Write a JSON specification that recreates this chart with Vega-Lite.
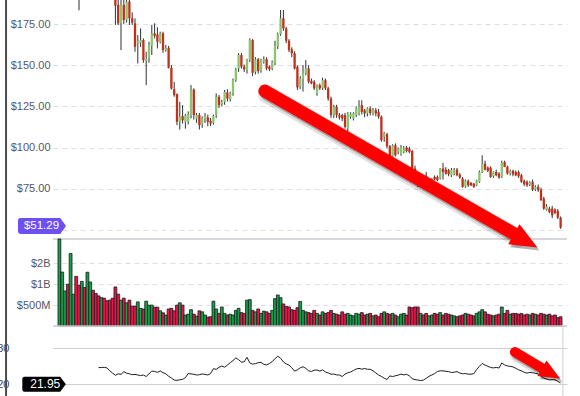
{
"$schema": "https://vega.github.io/schema/vega-lite/v6.json",
"width": 514, "height": 396, "autosize": "none",
"padding": {"left": 53, "top": 0, "right": 13, "bottom": 0},
"background": "#ffffff",
"config": {"view": {"stroke": null}, "axis": {"labelFont": "Liberation Sans", "labelFontSize": 11, "labelColor": "#55566a", "ticks": false, "domain": false}},
"datasets": {"k": [
{"i":0,"o":210,"h":217,"l":205,"c":214,"v":4500},
{"i":1,"o":214,"h":220,"l":211,"c":218,"v":1500},
{"i":2,"o":216,"h":222,"l":213,"c":219,"v":800},
{"i":3,"o":219,"h":221,"l":210,"c":213,"v":1000},
{"i":4,"o":205,"h":216,"l":199,"c":214,"v":2780},
{"i":5,"o":214,"h":219,"l":210,"c":216,"v":720},
{"i":6,"o":216,"h":217,"l":205,"c":208,"v":1300},
{"i":7,"o":205,"h":208,"l":183.5,"c":199,"v":970},
{"i":8,"o":198,"h":204,"l":193,"c":202,"v":1100},
{"i":9,"o":202,"h":204,"l":196,"c":198,"v":900},
{"i":10,"o":198,"h":208,"l":196,"c":206,"v":1490},
{"i":11,"o":206,"h":210,"l":203,"c":208,"v":1080},
{"i":12,"o":208,"h":209,"l":202,"c":204,"v":820},
{"i":13,"o":204,"h":206,"l":200,"c":201,"v":740},
{"i":14,"o":201,"h":203,"l":197,"c":199,"v":680,"r":47.3},
{"i":15,"o":199,"h":204,"l":198,"c":202,"v":640,"r":47.5},
{"i":16,"o":202,"h":203,"l":198,"c":200,"v":630,"r":47.8},
{"i":17,"o":200,"h":201,"l":196,"c":197,"v":580,"r":46.8},
{"i":18,"o":197,"h":198,"l":194,"c":195,"v":590,"r":42},
{"i":19,"o":195,"h":197,"l":192,"c":194,"v":630,"r":38},
{"i":20,"o":194,"h":196,"l":174.6,"c":186.3,"v":915,"r":34.5},
{"i":21,"o":186.8,"h":191,"l":174.6,"c":175.6,"v":720,"r":37},
{"i":22,"o":175.9,"h":190,"l":159.3,"c":186.8,"v":590,"r":36},
{"i":23,"o":186.8,"h":190,"l":175,"c":177.6,"v":630,"r":40.6},
{"i":24,"o":177.6,"h":191,"l":176,"c":188.8,"v":540,"r":38},
{"i":25,"o":188.8,"h":190,"l":174.6,"c":178.6,"v":590,"r":37},
{"i":26,"o":178.6,"h":182.3,"l":174.6,"c":176,"v":484,"r":35.5},
{"i":27,"o":175.6,"h":178.6,"l":158.3,"c":161.3,"v":484,"r":36},
{"i":28,"o":163.4,"h":168.5,"l":151.2,"c":164.8,"v":557,"r":35},
{"i":29,"o":163.8,"h":172.5,"l":161.3,"c":165.4,"v":450,"r":34},
{"i":30,"o":165.4,"h":166.4,"l":151.6,"c":153.2,"v":440,"r":35},
{"i":31,"o":152.8,"h":158.3,"l":138,"c":154.2,"v":570,"r":32.5},
{"i":32,"o":154.6,"h":164.4,"l":151.6,"c":162.4,"v":500,"r":37},
{"i":33,"o":162,"h":174.6,"l":156.3,"c":169.5,"v":500,"r":41.5},
{"i":34,"o":169.5,"h":175.6,"l":166.4,"c":167.9,"v":467,"r":41},
{"i":35,"o":168.9,"h":173.2,"l":160.3,"c":164.4,"v":467,"r":39.5},
{"i":36,"o":164.4,"h":170.5,"l":163.4,"c":169.5,"v":414,"r":41.7},
{"i":37,"o":169.5,"h":170.5,"l":157.7,"c":159.3,"v":388,"r":38.9},
{"i":38,"o":159.3,"h":162.4,"l":158.3,"c":160.7,"v":360,"r":37},
{"i":39,"o":160.7,"h":161.8,"l":148.1,"c":148.5,"v":440,"r":33},
{"i":40,"o":148.5,"h":150.2,"l":135.3,"c":135.9,"v":450,"r":30},
{"i":41,"o":135.5,"h":140,"l":130.9,"c":131.9,"v":414,"r":26.5},
{"i":42,"o":132.5,"h":132.9,"l":113.6,"c":115.6,"v":500,"r":26},
{"i":43,"o":115.6,"h":127.8,"l":110.9,"c":118.7,"v":540,"r":27},
{"i":44,"o":119.1,"h":125.8,"l":114.6,"c":116.6,"v":500,"r":27.8},
{"i":45,"o":115.2,"h":120.5,"l":111.5,"c":119.7,"v":360,"r":30.5},
{"i":46,"o":115.6,"h":122,"l":114,"c":120.3,"v":371,"r":37.5},
{"i":47,"o":119.7,"h":138,"l":117.7,"c":134.9,"v":430,"r":36.8},
{"i":48,"o":135.3,"h":136,"l":117,"c":119.7,"v":371,"r":36.2},
{"i":49,"o":117.7,"h":121,"l":115,"c":119.7,"v":348,"r":35},
{"i":50,"o":119.7,"h":121,"l":111,"c":113.6,"v":414,"r":35.5},
{"i":51,"o":114.2,"h":119,"l":112,"c":117.7,"v":400,"r":36.7},
{"i":52,"o":117.1,"h":121,"l":115,"c":119.1,"v":360,"r":36.1},
{"i":53,"o":118.3,"h":120,"l":113,"c":115.6,"v":337,"r":35},
{"i":54,"o":116.2,"h":118,"l":113,"c":114.6,"v":340,"r":37.5},
{"i":55,"o":115,"h":120,"l":114,"c":119.1,"v":570,"r":45.5},
{"i":56,"o":119.7,"h":133,"l":118,"c":130.9,"v":440,"r":44.4},
{"i":57,"o":130.9,"h":132,"l":124,"c":125.8,"v":380,"r":47.8},
{"i":58,"o":126.4,"h":129,"l":125,"c":127.8,"v":470,"r":50},
{"i":59,"o":127.8,"h":135,"l":126,"c":133.9,"v":380,"r":48},
{"i":60,"o":133.5,"h":135.5,"l":128,"c":129.8,"v":360,"r":51.5},
{"i":61,"o":129.4,"h":134,"l":128,"c":133,"v":370,"r":55.5},
{"i":62,"o":133,"h":142,"l":131.5,"c":141,"v":360,"r":59},
{"i":63,"o":141,"h":148.5,"l":140,"c":147.5,"v":420,"r":63.5},
{"i":64,"o":148.1,"h":157.5,"l":146,"c":156.3,"v":450,"r":60.5},
{"i":65,"o":156.3,"h":157.5,"l":148,"c":149.2,"v":390,"r":56.5},
{"i":66,"o":149.2,"h":150.5,"l":146,"c":147.5,"v":380,"r":57},
{"i":67,"o":147.1,"h":154,"l":145,"c":153.2,"v":590,"r":64.5},
{"i":68,"o":153.2,"h":166.5,"l":152,"c":165.4,"v":600,"r":55.2},
{"i":69,"o":165.4,"h":166,"l":143.5,"c":145.5,"v":420,"r":53},
{"i":70,"o":146.1,"h":155,"l":144.5,"c":153.6,"v":400,"r":54},
{"i":71,"o":153.8,"h":154.5,"l":145,"c":146.5,"v":440,"r":55.5},
{"i":72,"o":146.7,"h":154,"l":145.5,"c":153.2,"v":380,"r":56},
{"i":73,"o":152.2,"h":155.5,"l":151,"c":153.8,"v":410,"r":52.8},
{"i":74,"o":153.8,"h":155,"l":147,"c":148.1,"v":400,"r":51.9},
{"i":75,"o":149.2,"h":150,"l":146.5,"c":147.7,"v":380,"r":54},
{"i":76,"o":148.1,"h":153,"l":147,"c":152.2,"v":420,"r":57.5},
{"i":77,"o":151.6,"h":165,"l":150,"c":162,"v":620,"r":62},
{"i":78,"o":161.8,"h":170,"l":160,"c":169.1,"v":700,"r":66.5},
{"i":79,"o":169.1,"h":183.7,"l":168,"c":178.6,"v":640,"r":62.8},
{"i":80,"o":178.6,"h":183.7,"l":171,"c":172.5,"v":520,"r":56.8},
{"i":81,"o":172.5,"h":173.5,"l":163.5,"c":165,"v":480,"r":53.6},
{"i":82,"o":165,"h":166,"l":158,"c":159.3,"v":470,"r":51.5},
{"i":83,"o":159.7,"h":161,"l":155,"c":157.3,"v":430,"r":47},
{"i":84,"o":157.3,"h":158.5,"l":147.5,"c":148.1,"v":420,"r":41.5},
{"i":85,"o":149.2,"h":150,"l":135,"c":136.6,"v":460,"r":43.5},
{"i":86,"o":136.6,"h":143.5,"l":135.5,"c":142,"v":565,"r":47},
{"i":87,"o":142,"h":150.2,"l":134,"c":145.5,"v":420,"r":48.8},
{"i":88,"o":145.1,"h":153.2,"l":144,"c":148.1,"v":400,"r":46},
{"i":89,"o":148.1,"h":150,"l":139,"c":140,"v":390,"r":42},
{"i":90,"o":140.6,"h":142,"l":138.5,"c":139,"v":380,"r":40.8},
{"i":91,"o":140,"h":141,"l":135,"c":136,"v":420,"r":43},
{"i":92,"o":133,"h":138.5,"l":131.5,"c":138,"v":380,"r":43.3},
{"i":93,"o":138,"h":139,"l":135,"c":136,"v":360,"r":41.5},
{"i":94,"o":136,"h":142.5,"l":135,"c":141,"v":400,"r":43.5},
{"i":95,"o":141,"h":142,"l":135,"c":136,"v":380,"r":40},
{"i":96,"o":136,"h":137,"l":128.5,"c":129.8,"v":390,"r":38.5},
{"i":97,"o":129.8,"h":131,"l":118,"c":119.7,"v":420,"r":36.2},
{"i":98,"o":119.7,"h":126,"l":118,"c":124.8,"v":380,"r":36.7},
{"i":99,"o":124.8,"h":126,"l":118,"c":119.7,"v":370,"r":35.2},
{"i":100,"o":119.7,"h":121,"l":117,"c":118.3,"v":360,"r":35},
{"i":101,"o":119.7,"h":120.5,"l":116,"c":117.7,"v":400,"r":32.5},
{"i":102,"o":119.7,"h":121,"l":111.5,"c":112.6,"v":370,"r":36.5},
{"i":103,"o":111.6,"h":121.5,"l":110,"c":120.7,"v":380,"r":38.7},
{"i":104,"o":118.7,"h":121.5,"l":117.5,"c":120.7,"v":360,"r":40},
{"i":105,"o":117.7,"h":121.5,"l":116.5,"c":120.7,"v":350,"r":42.5},
{"i":106,"o":119.7,"h":125,"l":118.5,"c":123.8,"v":380,"r":45},
{"i":107,"o":120.7,"h":128.8,"l":119.5,"c":124.8,"v":370,"r":46},
{"i":108,"o":125.8,"h":128.8,"l":120,"c":121.7,"v":390,"r":44.7},
{"i":109,"o":122.7,"h":123.5,"l":118.5,"c":120.7,"v":360,"r":45.8},
{"i":110,"o":120.7,"h":124.5,"l":119,"c":123.8,"v":370,"r":44.6},
{"i":111,"o":123.8,"h":125,"l":119.5,"c":121,"v":380,"r":44.5},
{"i":112,"o":120.7,"h":124,"l":119.5,"c":122.7,"v":350,"r":42},
{"i":113,"o":122.7,"h":124,"l":119,"c":120.7,"v":360,"r":38.5},
{"i":114,"o":121.7,"h":123.5,"l":117.5,"c":118.7,"v":340,"r":35},
{"i":115,"o":118.7,"h":119.5,"l":103.5,"c":104.4,"v":380,"r":32.6},
{"i":116,"o":106.5,"h":109.5,"l":103.5,"c":108.9,"v":400,"r":29.8},
{"i":117,"o":108.1,"h":109,"l":99.5,"c":100.8,"v":380,"r":27.5},
{"i":118,"o":100.8,"h":101.5,"l":93,"c":94.3,"v":370,"r":33.5},
{"i":119,"o":94.3,"h":102,"l":93.5,"c":101.4,"v":380,"r":32.4},
{"i":120,"o":101.4,"h":102.5,"l":94.5,"c":95.3,"v":360,"r":33.7},
{"i":121,"o":97.3,"h":100,"l":96,"c":99.4,"v":340,"r":34.8},
{"i":122,"o":95.9,"h":101.5,"l":95,"c":100,"v":370,"r":36.5},
{"i":123,"o":97.5,"h":100.8,"l":96.5,"c":99.4,"v":380,"r":35.2},
{"i":124,"o":100,"h":101,"l":97,"c":97.9,"v":360,"r":36},
{"i":125,"o":99.4,"h":100.5,"l":96.5,"c":97.3,"v":470,"r":33.5},
{"i":126,"o":97.9,"h":98.5,"l":86,"c":87.2,"v":460,"r":29},
{"i":127,"o":87.2,"h":89,"l":82.5,"c":83.1,"v":470,"r":27.2},
{"i":128,"o":83.1,"h":84.1,"l":76,"c":80.1,"v":470,"r":26.7},
{"i":129,"o":80.1,"h":82.5,"l":78.5,"c":82.1,"v":380,"r":25.7},
{"i":130,"o":80.5,"h":81.5,"l":79,"c":79.7,"v":360,"r":26.5},
{"i":131,"o":82.5,"h":85.1,"l":78,"c":80.1,"v":380,"r":29.5},
{"i":132,"o":79,"h":80.5,"l":78,"c":80.1,"v":350,"r":32.8},
{"i":133,"o":78.4,"h":81.5,"l":77.5,"c":81.1,"v":360,"r":35},
{"i":134,"o":82.1,"h":83,"l":80,"c":80.5,"v":380,"r":37.3},
{"i":135,"o":82.1,"h":83,"l":79.5,"c":80.1,"v":370,"r":40.8},
{"i":136,"o":81.1,"h":87.5,"l":80.5,"c":87.2,"v":390,"r":42},
{"i":137,"o":87.2,"h":90.6,"l":80.5,"c":85.1,"v":360,"r":41.8},
{"i":138,"o":86.6,"h":88,"l":83.5,"c":84.1,"v":380,"r":41.2},
{"i":139,"o":86.2,"h":87,"l":82.5,"c":83.7,"v":370,"r":40.6},
{"i":140,"o":83.1,"h":87.5,"l":82,"c":86.2,"v":360,"r":39.2},
{"i":141,"o":84.1,"h":87.5,"l":83,"c":86.6,"v":350,"r":39.7},
{"i":142,"o":86.6,"h":87.5,"l":82.5,"c":83.1,"v":340,"r":40.6},
{"i":143,"o":83.5,"h":84.5,"l":81,"c":81.7,"v":350,"r":38.3},
{"i":144,"o":81.1,"h":82,"l":75.5,"c":76,"v":360,"r":37},
{"i":145,"o":76.4,"h":80.5,"l":75.5,"c":79.7,"v":380,"r":37.4},
{"i":146,"o":79.7,"h":80.5,"l":76,"c":77,"v":370,"r":36.4},
{"i":147,"o":78.4,"h":79,"l":76.5,"c":77,"v":360,"r":36.4},
{"i":148,"o":78,"h":78.5,"l":75.5,"c":76,"v":350,"r":37.2},
{"i":149,"o":77,"h":80.5,"l":76.5,"c":80.1,"v":380,"r":44},
{"i":150,"o":79.1,"h":86,"l":78.5,"c":85.1,"v":400,"r":49.5},
{"i":151,"o":85.1,"h":95.3,"l":84.5,"c":90.2,"v":430,"r":54.2},
{"i":152,"o":90.2,"h":92,"l":86,"c":86.6,"v":400,"r":51.5},
{"i":153,"o":87.8,"h":88.5,"l":85,"c":85.8,"v":370,"r":49.5},
{"i":154,"o":87.8,"h":88.5,"l":81.5,"c":82.1,"v":360,"r":47.5},
{"i":155,"o":82.5,"h":85.5,"l":81.5,"c":85.1,"v":350,"r":46.8},
{"i":156,"o":85.1,"h":86.5,"l":82.5,"c":83.1,"v":360,"r":47.6},
{"i":157,"o":84.1,"h":85,"l":81,"c":81.7,"v":370,"r":46.6},
{"i":158,"o":82.1,"h":92,"l":81.5,"c":90.6,"v":470,"r":55},
{"i":159,"o":91.2,"h":92,"l":88,"c":88.2,"v":380,"r":51.8},
{"i":160,"o":88.2,"h":89,"l":83.5,"c":84.1,"v":420,"r":50},
{"i":161,"o":84.1,"h":86.5,"l":83,"c":85.8,"v":370,"r":49.4},
{"i":162,"o":85.8,"h":86.5,"l":82.5,"c":83.7,"v":380,"r":48.5},
{"i":163,"o":85.1,"h":86,"l":82.5,"c":83.1,"v":380,"r":46.2},
{"i":164,"o":85.1,"h":86,"l":81.5,"c":82.5,"v":370,"r":43.6},
{"i":165,"o":83.1,"h":84,"l":78.5,"c":79.1,"v":380,"r":42},
{"i":166,"o":79.7,"h":80.5,"l":76.5,"c":77.6,"v":360,"r":39.5},
{"i":167,"o":79.1,"h":80,"l":76,"c":77,"v":370,"r":38.2},
{"i":168,"o":77.6,"h":79.5,"l":76.5,"c":79.1,"v":360,"r":39.3},
{"i":169,"o":79.1,"h":80.5,"l":73.5,"c":74.4,"v":380,"r":38.8},
{"i":170,"o":74.4,"h":77,"l":73.5,"c":76,"v":370,"r":37.8},
{"i":171,"o":76,"h":77.5,"l":73,"c":74,"v":360,"r":36.8},
{"i":172,"o":74.4,"h":75.5,"l":67.5,"c":67.9,"v":380,"r":33},
{"i":173,"o":68.9,"h":70,"l":62,"c":62.8,"v":370,"r":29.8},
{"i":174,"o":62.2,"h":65.5,"l":61.5,"c":64.2,"v":360,"r":28.2},
{"i":175,"o":62.8,"h":64,"l":60,"c":60.7,"v":370,"r":26.9},
{"i":176,"o":62.8,"h":64.5,"l":57,"c":58.7,"v":350,"r":27.3},
{"i":177,"o":62.2,"h":63,"l":59.5,"c":60.1,"v":360,"r":27.2},
{"i":178,"o":61.4,"h":62.5,"l":56.5,"c":57.3,"v":330,"r":24.2},
{"i":179,"o":57.3,"h":58,"l":50.5,"c":51.29,"v":340,"r":21.95}
]},
"layer": [
 {"data": {"values": [{"a": -19.06}]}, "mark": {"type": "rule", "color": "#4d4d4d", "strokeWidth": 2},
  "encoding": {"x": {"field": "a", "type": "quantitative", "scale": {"domain": [-0.5, 179.5], "nice": false, "zero": false}, "axis": null}}},
 {"data": {"name": "k"}, "mark": {"type": "rule", "color": "#2b3236", "strokeWidth": 1, "clip": true},
  "encoding": {
   "x": {"field": "i", "type": "quantitative", "scale": {"domain": [-0.5, 179.5], "nice": false, "zero": false}, "axis": null},
   "y": {"field": "l", "type": "quantitative", "scale": {"domain": [44.3, 189.8], "range": [239, 0], "nice": false, "zero": false},
     "axis": {"orient": "left", "values": [50, 75, 100, 125, 150, 175], "labelExpr": "datum.value == 50 ? '' : format(datum.value, '$.2f')", "grid": true, "gridColor": "#dedee8", "gridDash": [5, 4], "labelPadding": 3, "title": null}},
   "y2": {"field": "h"}}},
 {"data": {"name": "k"}, "mark": {"type": "bar", "size": 2.3, "clip": true},
  "encoding": {
   "x": {"field": "i", "type": "quantitative", "scale": {"domain": [-0.5, 179.5], "nice": false, "zero": false}, "axis": null},
   "y": {"field": "o", "type": "quantitative", "scale": {"domain": [44.3, 189.8], "range": [239, 0], "nice": false, "zero": false}, "axis": null},
   "y2": {"field": "c"},
   "color": {"condition": {"test": "datum.c >= datum.o", "value": "#8cc46f"}, "value": "#c1301a"}}},
 {"data": {"values": [{"p": 44.3}]}, "mark": {"type": "rule", "color": "#c9c9cf", "strokeWidth": 1.5},
  "encoding": {"y": {"field": "p", "type": "quantitative", "scale": {"domain": [44.3, 189.8], "range": [239, 0], "nice": false, "zero": false}, "axis": null}}},
 {"data": {"name": "k"}, "mark": {"type": "bar", "size": 2.85, "stroke": "#1b1b1b", "strokeWidth": 0.8},
  "encoding": {
   "x": {"field": "i", "type": "quantitative", "scale": {"domain": [-0.5, 179.5], "nice": false, "zero": false}, "axis": null},
   "y": {"field": "v", "type": "quantitative", "scale": {"type": "log", "domain": [250, 4500], "range": [326, 239], "nice": false},
     "axis": {"orient": "left", "values": [500, 1000, 2000], "labelExpr": "datum.value >= 1000 ? '$' + (datum.value / 1000) + 'B' : '$' + datum.value + 'M'", "grid": true, "gridColor": "#dedee8", "gridDash": [5, 4], "labelPadding": 3, "title": null}},
   "y2": {"datum": 250},
   "color": {"condition": {"test": "datum.c >= datum.o", "value": "#12a04a"}, "value": "#e4164a"}}},
 {"data": {"values": [{"v": 250}]}, "mark": {"type": "rule", "color": "#c9c9cf", "strokeWidth": 1.5},
  "encoding": {"y": {"field": "v", "type": "quantitative", "scale": {"type": "log", "domain": [250, 4500], "range": [326, 239], "nice": false}, "axis": null}}},
 {"data": {"name": "k"}, "mark": {"type": "line", "color": "#1e1e1e", "strokeWidth": 1},
  "encoding": {
   "x": {"field": "i", "type": "quantitative", "scale": {"domain": [-0.5, 179.5], "nice": false, "zero": false}, "axis": null},
   "y": {"field": "r", "type": "quantitative", "scale": {"domain": [0, 115], "range": [396, 327], "nice": false, "zero": false},
     "axis": {"orient": "left", "values": [20, 80], "grid": true, "gridColor": "#cfcfd6", "gridWidth": 1.2, "labelPadding": 44, "labelColor": "#444444", "title": null}}}},
 {"data": {"values": [{"a": 179.8, "r": 0, "r2": 115}]}, "mark": {"type": "rule", "color": "#d5d5dd", "strokeWidth": 1.2},
  "encoding": {
   "x": {"field": "a", "type": "quantitative", "scale": {"domain": [-0.5, 179.5], "nice": false, "zero": false}, "axis": null},
   "y": {"field": "r", "type": "quantitative", "scale": {"domain": [0, 115], "range": [396, 327], "nice": false, "zero": false}, "axis": null},
   "y2": {"field": "r2"}}},
 {"data": {"values": [{"a": 73.38, "b": 134.33, "a2": 163.36, "b2": 46.5}]},
  "layer": [
   {"mark": {"type": "rule", "color": "#000000", "opacity": 0.12, "strokeWidth": 18, "strokeCap": "round", "xOffset": 2, "yOffset": 3, "x2Offset": 2, "y2Offset": 3}},
   {"mark": {"type": "rule", "color": "#000000", "opacity": 0.25, "strokeWidth": 13, "strokeCap": "round", "xOffset": 2, "yOffset": 3, "x2Offset": 2, "y2Offset": 3}},
   {"mark": {"type": "rule", "color": "#ff0000", "strokeWidth": 13, "strokeCap": "round"}}
  ],
  "encoding": {
   "x": {"field": "a", "type": "quantitative", "scale": {"domain": [-0.5, 179.5], "nice": false, "zero": false}, "axis": null},
   "y": {"field": "b", "type": "quantitative", "scale": {"domain": [44.3, 189.8], "range": [239, 0], "nice": false, "zero": false}, "axis": null},
   "x2": {"field": "a2"}, "y2": {"field": "b2"}}},
 {"data": {"values": [{"a": 166.52, "b": 43.16}]},
  "layer": [
   {"mark": {"type": "point", "shape": "M1,0L-1,-0.85L-1,0.85Z", "filled": true, "color": "#000000", "opacity": 0.3, "size": 729, "angle": 29.3, "xOffset": 2, "yOffset": 3}},
   {"mark": {"type": "point", "shape": "M1,0L-1,-0.85L-1,0.85Z", "filled": true, "color": "#ff0000", "opacity": 1, "size": 729, "angle": 29.3}}
  ],
  "encoding": {
   "x": {"field": "a", "type": "quantitative", "scale": {"domain": [-0.5, 179.5], "nice": false, "zero": false}, "axis": null},
   "y": {"field": "b", "type": "quantitative", "scale": {"domain": [44.3, 189.8], "range": [239, 0], "nice": false, "zero": false}, "axis": null}}},
 {"data": {"values": [{"a": -6.21, "b": 51.29, "t": "$51.29"}]},
  "layer": [
   {"mark": {"type": "point", "shape": "M-0.9,-0.33L0.76,-0.33L1,0L0.76,0.33L-0.9,0.33Q-1,0.33 -1,0.23L-1,-0.23Q-1,-0.33 -0.9,-0.33Z", "filled": true, "color": "#6d4ff2", "opacity": 1, "size": 2304, "yOffset": -1.5}},
   {"mark": {"type": "text", "color": "#ffffff", "font": "Liberation Sans", "fontSize": 11.5, "align": "center", "baseline": "middle", "xOffset": -0.5, "yOffset": -1.5}, "encoding": {"text": {"field": "t"}}}
  ],
  "encoding": {
   "x": {"field": "a", "type": "quantitative", "scale": {"domain": [-0.5, 179.5], "nice": false, "zero": false}, "axis": null},
   "y": {"field": "b", "type": "quantitative", "scale": {"domain": [44.3, 189.8], "range": [239, 0], "nice": false, "zero": false}, "axis": null}}},
 {"data": {"values": [{"a": 162.67, "b": 73.33, "a2": 172.82, "b2": 45}]},
  "layer": [
   {"mark": {"type": "rule", "color": "#000000", "opacity": 0.12, "strokeWidth": 14, "strokeCap": "round", "xOffset": 2, "yOffset": 3, "x2Offset": 2, "y2Offset": 3}},
   {"mark": {"type": "rule", "color": "#000000", "opacity": 0.25, "strokeWidth": 10, "strokeCap": "round", "xOffset": 2, "yOffset": 3, "x2Offset": 2, "y2Offset": 3}},
   {"mark": {"type": "rule", "color": "#ff0000", "strokeWidth": 10, "strokeCap": "round"}}
  ],
  "encoding": {
   "x": {"field": "a", "type": "quantitative", "scale": {"domain": [-0.5, 179.5], "nice": false, "zero": false}, "axis": null},
   "y": {"field": "b", "type": "quantitative", "scale": {"domain": [0, 115], "range": [396, 327], "nice": false, "zero": false}, "axis": null},
   "x2": {"field": "a2"}, "y2": {"field": "b2"}}},
 {"data": {"values": [{"a": 175.62, "b": 37.5}]},
  "layer": [
   {"mark": {"type": "point", "shape": "M1,0L-1,-0.85L-1,0.85Z", "filled": true, "color": "#000000", "opacity": 0.3, "size": 441, "angle": 30, "xOffset": 2, "yOffset": 3}},
   {"mark": {"type": "point", "shape": "M1,0L-1,-0.85L-1,0.85Z", "filled": true, "color": "#ff0000", "opacity": 1, "size": 441, "angle": 30}}
  ],
  "encoding": {
   "x": {"field": "a", "type": "quantitative", "scale": {"domain": [-0.5, 179.5], "nice": false, "zero": false}, "axis": null},
   "y": {"field": "b", "type": "quantitative", "scale": {"domain": [0, 115], "range": [396, 327], "nice": false, "zero": false}, "axis": null}}},
 {"data": {"values": [{"a": -5.47, "b": 21.95, "t": "21.95"}]},
  "layer": [
   {"mark": {"type": "point", "shape": "M-0.9,-0.345L0.74,-0.345L1,0L0.74,0.345L-0.9,0.345Q-1,0.345 -1,0.245L-1,-0.245Q-1,-0.345 -0.9,-0.345Z", "filled": true, "color": "#000000", "opacity": 1, "size": 1892, "yOffset": 1.3}},
   {"mark": {"type": "text", "color": "#ffffff", "font": "Liberation Sans", "fontSize": 12, "align": "center", "baseline": "middle", "xOffset": 1.2, "yOffset": 1.3}, "encoding": {"text": {"field": "t"}}}
  ],
  "encoding": {
   "x": {"field": "a", "type": "quantitative", "scale": {"domain": [-0.5, 179.5], "nice": false, "zero": false}, "axis": null},
   "y": {"field": "b", "type": "quantitative", "scale": {"domain": [0, 115], "range": [396, 327], "nice": false, "zero": false}, "axis": null}}}
],
"resolve": {"scale": {"y": "independent"}, "axis": {"y": "independent"}}
}
